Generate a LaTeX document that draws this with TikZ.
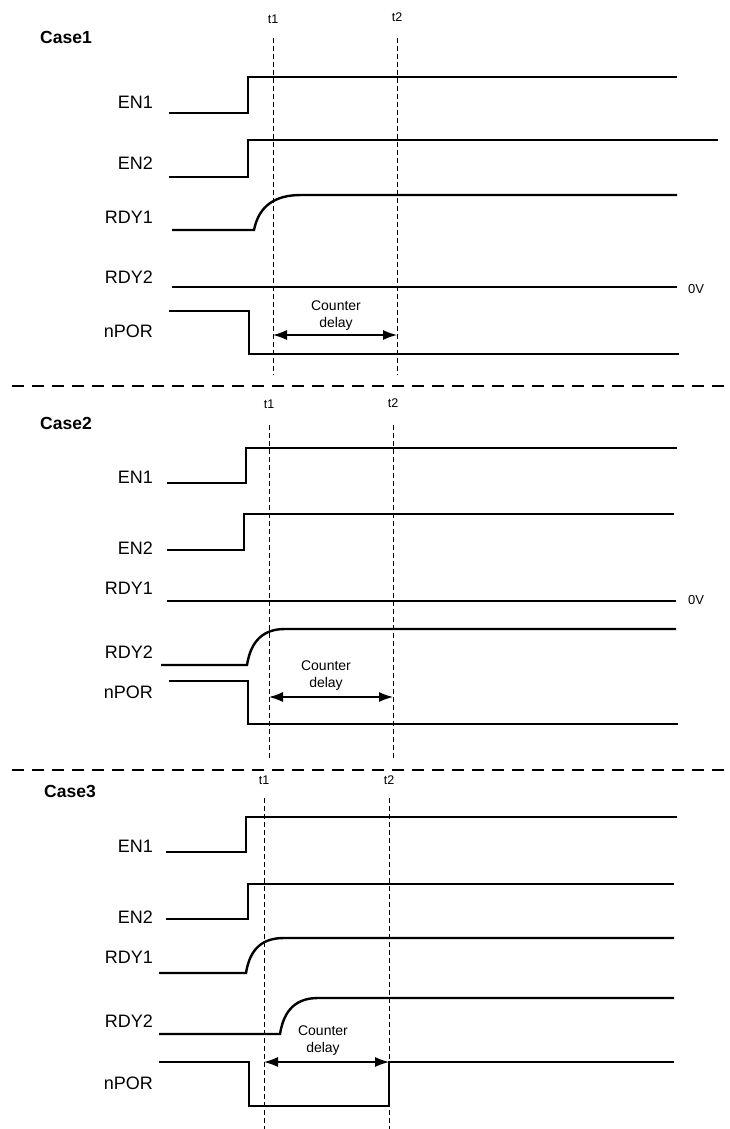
\documentclass[tikz,border=0pt]{standalone}
\usepackage{fontspec}
\setmainfont{Liberation Sans}
\usetikzlibrary{arrows.meta}
\begin{document}
\begin{tikzpicture}[x=1pt,y=-1pt,
  sig/.style={line width=2.4pt, line join=miter},
  tline/.style={line width=0.9pt, dash pattern=on 5pt off 3pt},
  sep/.style={line width=1.4pt, dash pattern=on 12pt off 8pt},
  lbl/.style={anchor=east, font=\fontsize{18}{20}\selectfont, inner sep=0pt},
  case/.style={anchor=west, font=\bfseries\fontsize{17.5}{20}\selectfont, inner sep=0pt},
  tlbl/.style={font=\fontsize{12.5}{14}\selectfont, inner sep=0pt},
  volt/.style={anchor=west, font=\fontsize{13}{14}\selectfont, inner sep=0pt},
  cnt/.style={align=center, font=\fontsize{14}{17}\selectfont, inner sep=0pt},
  dly/.style={line width=1.2pt, {Latex[length=14pt,width=10pt]}-{Latex[length=14pt,width=10pt]}}]
\useasboundingbox (0,0) rectangle (730,1129);

% ---------------- Case 1 ----------------
\node[case] (c1) at (40,37) {Case1};
\node[tlbl] (c1t1) at (273,19) {t1};
\node[tlbl] (c1t2) at (397,17) {t2};
\coordinate (c1t1a) at (273,38); \coordinate (c1t1b) at (273,375);
\coordinate (c1t2a) at (397,38); \coordinate (c1t2b) at (397,375);
\draw[tline] (c1t1a) -- (c1t1b);
\draw[tline] (c1t2a) -- (c1t2b);
\node[lbl] (c1en1) at (153,102) {EN1};
\node[lbl] (c1en2) at (153,163) {EN2};
\node[lbl] (c1r1) at (153,217) {RDY1};
\node[lbl] (c1r2) at (153,277) {RDY2};
\node[lbl] (c1np) at (153,331) {nPOR};
\draw[sig] (169,113) -- (248,113) -- (248,77) -- (677,77);
\draw[sig] (169,177) -- (248,177) -- (248,140) -- (718,140);
\draw[sig] (172,230) -- (254,230) .. controls (259,205) and (276,195) .. (301,195) -- (677,195);
\draw[sig] (172,287) -- (677,287);
\node[volt] (c1v) at (688,289) {0V};
\draw[sig] (169,311) -- (249,311) -- (249,354) -- (679,354);
\coordinate (c1da) at (273,335); \coordinate (c1db) at (397,335);
\draw[dly] (c1da) -- (c1db);
\node[cnt] (c1cd) at (336,316) {Counter\\delay};

\draw[sep] (12,386) -- (730,386);

% ---------------- Case 2 ----------------
\node[case] (c2) at (40,423) {Case2};
\node[tlbl] (c2t1) at (269,404) {t1};
\node[tlbl] (c2t2) at (393,403) {t2};
\coordinate (c2t1a) at (269,425); \coordinate (c2t1b) at (269,760);
\coordinate (c2t2a) at (393,425); \coordinate (c2t2b) at (393,760);
\draw[tline] (c2t1a) -- (c2t1b);
\draw[tline] (c2t2a) -- (c2t2b);
\node[lbl] (c2en1) at (153,477) {EN1};
\node[lbl] (c2en2) at (153,548) {EN2};
\node[lbl] (c2r1) at (153,588) {RDY1};
\node[lbl] (c2r2) at (153,652) {RDY2};
\node[lbl] (c2np) at (153,692) {nPOR};
\draw[sig] (167,483) -- (246,483) -- (246,448) -- (677,448);
\draw[sig] (167,550) -- (244,550) -- (244,514) -- (674,514);
\draw[sig] (167,601) -- (676,601);
\node[volt] (c2v) at (688,600) {0V};
\draw[sig] (161,665) -- (247,665) .. controls (251,640) and (264,629) .. (285,629) -- (676,629);
\draw[sig] (169,681) -- (248,681) -- (248,724) -- (678,724);
\coordinate (c2da) at (269,697); \coordinate (c2db) at (393,697);
\draw[dly] (c2da) -- (c2db);
\node[cnt] (c2cd) at (326,676) {Counter\\delay};

\draw[sep] (12,770) -- (730,770);

% ---------------- Case 3 ----------------
\node[case] (c3) at (44,791) {Case3};
\node[tlbl] (c3t1) at (264,780) {t1};
\node[tlbl] (c3t2) at (389,780) {t2};
\coordinate (c3t1a) at (264,798); \coordinate (c3t1b) at (264,1129);
\coordinate (c3t2a) at (389,798); \coordinate (c3t2b) at (389,1129);
\draw[tline] (c3t1a) -- (c3t1b);
\draw[tline] (c3t2a) -- (c3t2b);
\node[lbl] (c3en1) at (153,846) {EN1};
\node[lbl] (c3en2) at (153,917) {EN2};
\node[lbl] (c3r1) at (153,957) {RDY1};
\node[lbl] (c3r2) at (153,1021) {RDY2};
\node[lbl] (c3np) at (153,1083) {nPOR};
\draw[sig] (166,852) -- (246,852) -- (246,817) -- (677,817);
\draw[sig] (166,919) -- (248,919) -- (248,884) -- (674,884);
\draw[sig] (159,973) -- (246,973) .. controls (250,948) and (263,938) .. (284,938) -- (674,938);
\draw[sig] (159,1034) -- (280,1034) .. controls (284,1009) and (297,998) .. (318,998) -- (674,998);
\draw[sig] (159,1062) -- (249,1062) -- (249,1106) -- (389,1106) -- (389,1062) -- (674,1062);
\coordinate (c3da) at (264,1062); \coordinate (c3db) at (389,1062);
\draw[dly] (c3da) -- (c3db);
\node[cnt] (c3cd) at (323,1041) {Counter\\delay};
\end{tikzpicture}
\end{document}
